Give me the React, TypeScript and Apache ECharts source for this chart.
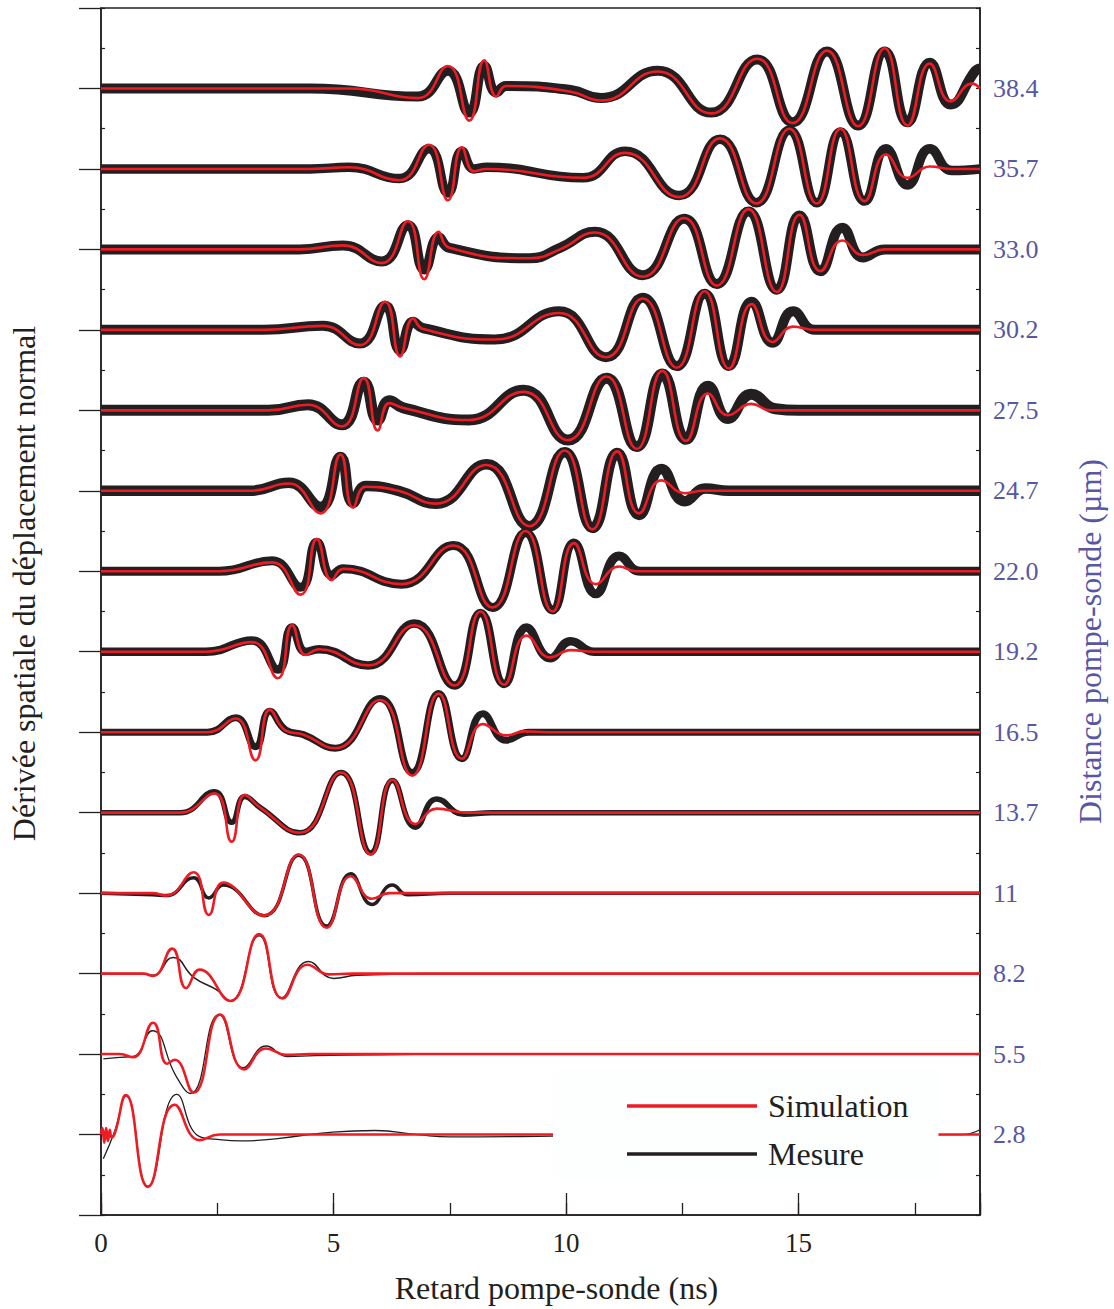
import React, { useEffect, useRef } from 'react';
import * as echarts from 'echarts';

// Right-axis labels: pump-probe distance (µm), one per trace (bottom to top)
const distanceLabels = ['2.8', '5.5', '8.2', '11', '13.7', '16.5', '19.2', '22.0', '24.7', '27.5', '30.2', '33.0', '35.7', '38.4'];
const xTickValues = [0, 5, 10, 15];

// Simulation (red) and measurement (black) traces: [delay ns, normalized amplitude]
const sim28 = [[0, 0], [0.03, 0.08], [0.07, -0.1], [0.11, 0.08], [0.15, -0.08], [0.19, 0.06], [0.23, -0.04], [0.3, 0.02], [0.535, 0.49], [1.01, -0.65], [1.585, 0.37], [2.12, -0.07], [2.55, 0], [3.5, 0], [18.9, 0]];
const mes28 = [[0.05, -0.3], [0.3, 0.05], [0.535, 0.48], [1.01, -0.64], [1.63, 0.5], [2.1, -0.02], [2.5, -0.06], [3.0, -0.08], [3.8, -0.05], [4.8, 0.02], [5.9, 0.05], [6.8, 0.0], [7.5, -0.03], [9.7, -0.02], [12, 0], [18.5, 0], [18.9, 0.06]];

const sim55 = [[0, 0], [0.4, 0], [0.69, -0.04], [1.12, 0.39], [1.42, -0.12], [1.585, -0.07], [1.99, -0.48], [2.56, 0.49], [3.08, -0.19], [3.55, 0.07], [3.98, -0.01], [4.5, 0], [5.5, 0], [18.9, 0]];
const mes55 = [[0.05, -0.06], [0.4, -0.04], [0.69, -0.03], [1.1, 0.29], [1.62, -0.28], [1.92, -0.49], [2.54, 0.49], [3.06, -0.17], [3.55, 0.1], [4.0, -0.03], [4.6, -0.02], [6, -0.01], [8, 0], [18.9, 0]];

const sim82 = [[0, 0], [0.9, 0], [1.12, -0.03], [1.53, 0.31], [1.83, -0.18], [2.12, 0.05], [2.78, -0.34], [3.4, 0.49], [3.9, -0.31], [4.44, 0.11], [4.9, -0.01], [5.4, 0], [6.5, 0], [18.9, 0]];
const mes82 = [[0, 0], [0.9, 0], [1.12, -0.02], [1.55, 0.2], [2.0, -0.05], [2.48, -0.2], [2.78, -0.34], [3.4, 0.47], [3.88, -0.3], [4.46, 0.15], [5.0, -0.06], [5.5, -0.02], [7, 0], [18.9, 0]];

const sim110 = [[0, 0], [1.1, 0], [1.41, -0.03], [1.99, 0.26], [2.32, -0.27], [2.63, 0.13], [3.51, -0.28], [4.25, 0.48], [4.85, -0.43], [5.37, 0.21], [5.83, -0.07], [6.2, 0], [7.2, 0], [18.9, 0]];
const mes110 = [[0, 0], [1.1, -0.02], [1.41, -0.03], [1.99, 0.19], [2.32, -0.06], [2.63, 0.1], [3.51, -0.28], [4.25, 0.47], [4.85, -0.41], [5.37, 0.24], [5.83, -0.14], [6.26, 0.1], [6.6, -0.02], [7.5, 0], [18.9, 0]];

const sim137 = [[0, 0], [1.7, 0], [2.44, 0.24], [2.81, -0.36], [3.09, 0.22], [3.43, 0.06], [4.28, -0.25], [5.16, 0.5], [5.8, -0.52], [6.27, 0.41], [6.76, -0.14], [7.22, 0.05], [7.85, 0], [9, 0], [18.9, 0]];
const mes137 = [[0, 0], [1.7, 0], [2.44, 0.26], [2.81, -0.12], [3.09, 0.2], [3.43, 0.06], [4.28, -0.25], [5.16, 0.5], [5.8, -0.5], [6.27, 0.4], [6.76, -0.18], [7.22, 0.17], [7.8, -0.02], [8.4, 0], [18.9, 0]];

const sim165 = [[0, 0], [2.29, 0], [2.9, 0.17], [3.32, -0.35], [3.63, 0.28], [3.97, 0.02], [4.35, -0.03], [5.04, -0.2], [6.0, 0.4], [6.69, -0.54], [7.26, 0.48], [7.76, -0.33], [8.21, 0.1], [8.71, -0.04], [9.1, 0.01], [9.6, 0], [11, 0], [18.9, 0]];
const mes165 = [[0, 0], [2.29, 0], [2.9, 0.18], [3.32, -0.18], [3.63, 0.26], [3.97, 0.03], [4.35, -0.03], [5.04, -0.2], [6.0, 0.42], [6.69, -0.5], [7.26, 0.48], [7.76, -0.33], [8.21, 0.23], [8.71, -0.1], [9.2, 0], [10.5, 0], [18.9, 0]];

const sim192 = [[0, 0], [2.25, 0], [3.25, 0.12], [3.8, -0.33], [4.11, 0.33], [4.4, -0.04], [4.69, 0.03], [5.74, -0.17], [6.74, 0.33], [7.6, -0.42], [8.16, 0.5], [8.67, -0.41], [9.15, 0.2], [9.66, -0.07], [10.1, 0.02], [10.6, 0], [12, 0], [18.9, 0]];
const mes192 = [[0, 0], [2.25, 0], [3.25, 0.14], [3.8, -0.22], [4.11, 0.3], [4.4, 0.0], [4.69, 0.03], [5.74, -0.17], [6.74, 0.35], [7.6, -0.42], [8.16, 0.48], [8.67, -0.4], [9.15, 0.3], [9.66, -0.08], [10.1, 0.13], [10.6, 0], [12, 0], [18.9, 0]];

const sim220 = [[0, 0], [2.54, 0], [3.68, 0.11], [4.29, -0.29], [4.64, 0.4], [4.96, -0.11], [5.21, 0.03], [6.46, -0.16], [7.58, 0.32], [8.42, -0.45], [9.13, 0.5], [9.71, -0.5], [10.17, 0.35], [10.64, -0.16], [11.14, 0.06], [11.5, 0], [13, 0], [18.9, 0]];
const mes220 = [[0, 0], [2.54, 0], [3.68, 0.13], [4.29, -0.2], [4.64, 0.36], [4.96, -0.05], [5.21, 0.03], [6.46, -0.16], [7.58, 0.32], [8.42, -0.45], [9.13, 0.48], [9.71, -0.48], [10.17, 0.35], [10.64, -0.28], [11.14, 0.19], [11.6, 0], [13, 0], [18.9, 0]];

const sim247 = [[0, 0], [3.2, 0], [4.04, 0.09], [4.72, -0.28], [5.15, 0.45], [5.42, -0.21], [5.7, 0.05], [6.4, 0], [7.2, -0.16], [8.29, 0.32], [9.21, -0.44], [9.97, 0.5], [10.57, -0.48], [11.1, 0.49], [11.57, -0.28], [12.05, 0.13], [12.55, -0.03], [12.95, 0], [14, 0], [18.9, 0]];
const mes247 = [[0, 0], [3.2, 0], [4.04, 0.1], [4.72, -0.2], [5.15, 0.42], [5.42, -0.15], [5.7, 0.06], [6.4, 0], [7.2, -0.16], [8.29, 0.33], [9.21, -0.44], [9.97, 0.48], [10.57, -0.46], [11.1, 0.47], [11.57, -0.3], [12.05, 0.27], [12.55, -0.13], [13.0, 0.03], [13.5, 0], [15, 0], [18.9, 0]];

const sim275 = [[0, 0], [3.6, 0], [4.45, 0.07], [5.18, -0.2], [5.65, 0.4], [5.95, -0.25], [6.2, 0.09], [6.5, 0.03], [7.91, -0.12], [9.09, 0.23], [10.04, -0.37], [10.87, 0.42], [11.52, -0.48], [12.07, 0.49], [12.58, -0.38], [13.05, 0.21], [13.48, -0.06], [13.98, 0.08], [14.4, 0], [15.5, 0], [18.9, 0]];
const mes275 = [[0, 0], [3.6, 0], [4.45, 0.07], [5.18, -0.18], [5.65, 0.35], [5.95, -0.12], [6.2, 0.12], [6.5, 0.03], [7.91, -0.12], [9.09, 0.25], [10.04, -0.37], [10.87, 0.4], [11.52, -0.45], [12.07, 0.45], [12.58, -0.36], [13.05, 0.3], [13.48, -0.1], [13.98, 0.2], [14.5, 0.02], [15, 0], [16, 0], [18.9, 0]];

const sim302 = [[0, 0], [3.5, 0], [4.77, 0.05], [5.57, -0.19], [6.11, 0.35], [6.43, -0.33], [6.71, 0.14], [6.93, 0.01], [8.47, -0.12], [9.85, 0.21], [10.86, -0.34], [11.65, 0.39], [12.38, -0.47], [12.98, 0.48], [13.5, -0.48], [13.99, 0.32], [14.44, -0.15], [14.88, 0.04], [15.35, 0], [16.5, 0], [18.9, 0]];
const mes302 = [[0, 0], [3.5, 0], [4.77, 0.05], [5.57, -0.17], [6.11, 0.3], [6.43, -0.25], [6.71, 0.1], [6.93, 0.02], [8.47, -0.12], [9.85, 0.23], [10.86, -0.34], [11.65, 0.4], [12.38, -0.45], [12.98, 0.45], [13.5, -0.45], [13.99, 0.35], [14.44, -0.16], [14.88, 0.23], [15.35, 0], [16.5, 0], [18.9, 0]];

const sim330 = [[0, 0], [4.26, 0], [5.2, 0.05], [6.04, -0.17], [6.6, 0.35], [6.95, -0.37], [7.26, 0.22], [7.49, 0.02], [9.22, -0.11], [9.87, 0], [10.62, 0.21], [11.65, -0.34], [12.54, 0.39], [13.24, -0.45], [13.92, 0.5], [14.53, -0.53], [15.02, 0.43], [15.47, -0.27], [15.94, 0.11], [16.38, -0.07], [16.85, 0], [17.8, 0], [18.9, 0]];
const mes330 = [[0, 0], [4.26, 0], [5.2, 0.05], [6.04, -0.15], [6.6, 0.3], [6.95, -0.25], [7.26, 0.15], [7.49, 0.02], [9.22, -0.11], [9.87, 0.02], [10.62, 0.22], [11.65, -0.32], [12.54, 0.38], [13.24, -0.43], [13.92, 0.47], [14.53, -0.5], [15.02, 0.42], [15.47, -0.27], [15.94, 0.27], [16.38, -0.1], [16.85, 0], [17.8, 0], [18.9, 0]];

const sim357 = [[0, 0], [4.5, 0], [5.33, 0.02], [6.42, -0.14], [7.05, 0.3], [7.46, -0.39], [7.76, 0.27], [8.02, -0.03], [8.3, 0], [10.36, -0.11], [11.27, 0.2], [12.43, -0.35], [13.31, 0.38], [14.09, -0.43], [14.8, 0.5], [15.39, -0.43], [15.9, 0.5], [16.42, -0.4], [16.88, 0.18], [17.34, -0.11], [17.82, 0.03], [18.3, 0], [18.9, 0]];
const mes357 = [[0, 0], [4.5, 0], [5.33, 0.02], [6.42, -0.12], [7.05, 0.25], [7.46, -0.3], [7.76, 0.22], [8.02, 0], [8.3, 0.02], [10.36, -0.11], [11.27, 0.22], [12.43, -0.33], [13.31, 0.37], [14.09, -0.42], [14.8, 0.48], [15.39, -0.42], [15.9, 0.46], [16.42, -0.4], [16.88, 0.25], [17.34, -0.2], [17.82, 0.25], [18.3, -0.02], [18.9, 0]];

const sim384 = [[0, 0], [4.5, 0], [5.33, 0], [6.81, -0.12], [7.46, 0.28], [7.92, -0.4], [8.24, 0.35], [8.5, -0.1], [8.71, 0.03], [10.1, -0.04], [10.75, -0.15], [11.97, 0.21], [13.12, -0.31], [14.11, 0.37], [14.87, -0.43], [15.61, 0.47], [16.28, -0.47], [16.85, 0.5], [17.34, -0.46], [17.82, 0.31], [18.27, -0.16], [18.73, 0.06], [18.9, 0]];
const mes384 = [[0, 0], [4.5, 0], [6.81, -0.1], [7.46, 0.22], [7.92, -0.3], [8.24, 0.28], [8.5, -0.05], [8.71, 0.03], [10.1, -0.02], [10.75, -0.12], [11.97, 0.22], [13.12, -0.3], [14.11, 0.36], [14.87, -0.42], [15.61, 0.46], [16.28, -0.46], [16.85, 0.46], [17.34, -0.42], [17.82, 0.32], [18.27, -0.2], [18.8, 0.22], [18.9, 0.25]];

const simTraces = [sim28, sim55, sim82, sim110, sim137, sim165, sim192, sim220, sim247, sim275, sim302, sim330, sim357, sim384];
const mesTraces = [mes28, mes55, mes82, mes110, mes137, mes165, mes192, mes220, mes247, mes275, mes302, mes330, mes357, mes384];

// style: apparent thickness (px) of the noisy measurement band per trace
const noiseBand = [1.3, 1.3, 1.6, 3.5, 5.5, 7, 8.5, 9, 10.5, 11, 10, 10, 9.5, 10];

const SERIF = "'Liberation Serif', 'Times New Roman', serif";
const INK = '#231f20';
const RED = '#ed1c24';
const BLUE = '#5757a3';

export default function App() {
  const ref = useRef<HTMLDivElement>(null);

  useEffect(() => {
    if (!ref.current) return;
    const chart = echarts.init(ref.current, null, { renderer: 'svg' });

    const mesSeries = mesTraces.map((d, k) => ({
      type: 'line',
      name: 'Mesure',
      xAxisIndex: 0,
      yAxisIndex: 0,
      data: d.map(([x, y]) => [x, y + k]),
      smooth: 0.5,
      symbol: 'none',
      silent: true,
      clip: true,
      z: 2,
      itemStyle: { color: INK },
      lineStyle: { color: INK, width: noiseBand[k], cap: 'butt', join: 'round' },
    }));
    const simSeries = simTraces.map((d, k) => ({
      type: 'line',
      name: 'Simulation',
      xAxisIndex: 0,
      yAxisIndex: 0,
      data: d.map(([x, y]) => [x, y + k]),
      smooth: 0.5,
      symbol: 'none',
      silent: true,
      clip: true,
      z: 3,
      itemStyle: { color: RED },
      lineStyle: { color: RED, width: 2.6, cap: 'butt', join: 'round' },
    }));

    const option: any = {
      animation: false,
      backgroundColor: '#ffffff',
      grid: {
        left: 101,
        right: 130.5,
        top: 8,
        bottom: 92,
        show: true,
        borderColor: INK,
        borderWidth: 1.5,
        backgroundColor: 'transparent',
      },
      legend: {
        data: [{ name: 'Simulation' }, { name: 'Mesure' }],
        icon: 'rect',
        orient: 'vertical',
        left: 553,
        top: 1070,
        itemWidth: 130,
        itemHeight: 3.5,
        itemGap: 16,
        padding: [20, 30, 8, 74],
        backgroundColor: '#fdfefe',
        selectedMode: false,
        textStyle: { fontSize: 32, fontFamily: SERIF, color: INK, padding: [0, 0, 0, 6] },
      },
      xAxis: [
        {
          type: 'value',
          min: 0,
          max: 18.9,
          interval: 5,
          position: 'bottom',
          axisLine: { show: true, onZero: false, lineStyle: { color: INK, width: 1.5 } },
          axisTick: { show: true, inside: true, length: 22, lineStyle: { color: INK, width: 1.3 } },
          axisLabel: {
            show: true,
            fontSize: 27,
            fontFamily: SERIF,
            color: INK,
            margin: 14,
            formatter: (v: number) => (xTickValues.includes(v) ? String(v) : ''),
          },
          splitLine: { show: false },
          name: 'Retard pompe-sonde (ns)',
          nameLocation: 'middle',
          nameGap: 57,
          nameTextStyle: { fontSize: 32, fontFamily: SERIF, color: INK, padding: [0, 0, 0, 32] },
        },
        {
          type: 'value',
          min: 0,
          max: 18.9,
          interval: 2.5,
          position: 'bottom',
          axisLine: { show: false, onZero: false },
          axisTick: { show: true, inside: true, length: 12, lineStyle: { color: INK, width: 1.3 } },
          axisLabel: { show: false },
          splitLine: { show: false },
        },
      ],
      yAxis: [
        {
          type: 'value',
          min: -1,
          max: 14,
          interval: 1,
          position: 'left',
          axisLine: { show: true, onZero: false, lineStyle: { color: INK, width: 1.5 } },
          axisTick: { show: true, inside: false, length: 22, lineStyle: { color: INK, width: 1.3 } },
          axisLabel: { show: false },
          splitLine: { show: false },
          name: 'Dérivée spatiale du déplacement normal',
          nameLocation: 'middle',
          nameGap: 61,
          nameRotate: 90,
          nameTextStyle: { fontSize: 32, fontFamily: SERIF, color: INK, padding: [0, 0, 0, 56] },
        },
        {
          type: 'value',
          min: -1,
          max: 14,
          interval: 0.5,
          position: 'left',
          axisLine: { show: false, onZero: false },
          axisTick: { show: true, inside: true, length: 4, lineStyle: { color: INK, width: 1.2 } },
          axisLabel: { show: false },
          splitLine: { show: false },
        },
        {
          type: 'value',
          min: -1,
          max: 14,
          interval: 0.5,
          position: 'right',
          axisLine: { show: true, onZero: false, lineStyle: { color: INK, width: 1.5 } },
          axisTick: { show: true, inside: true, length: 4, lineStyle: { color: INK, width: 1.2 } },
          axisLabel: {
            show: true,
            fontSize: 26,
            fontFamily: SERIF,
            color: BLUE,
            margin: 13,
            padding: [0, 0, 5, 0],
            formatter: (v: number) => (Number.isInteger(v) && v >= 0 && v < distanceLabels.length ? distanceLabels[v] : ''),
          },
          splitLine: { show: false },
          name: 'Distance pompe-sonde (µm)',
          nameLocation: 'middle',
          nameGap: 94,
          nameRotate: 90,
          nameTextStyle: { fontSize: 32, fontFamily: SERIF, color: BLUE, padding: [0, 60, 0, 0] },
        },
      ],
      series: [...mesSeries, ...simSeries],
    };

    chart.setOption(option);
    return () => chart.dispose();
  }, []);

  return (
    <div
      ref={ref}
      style={{ position: 'fixed', left: 0, top: 0, width: 1114, height: 1309, background: '#fff' }}
    />
  );
}
